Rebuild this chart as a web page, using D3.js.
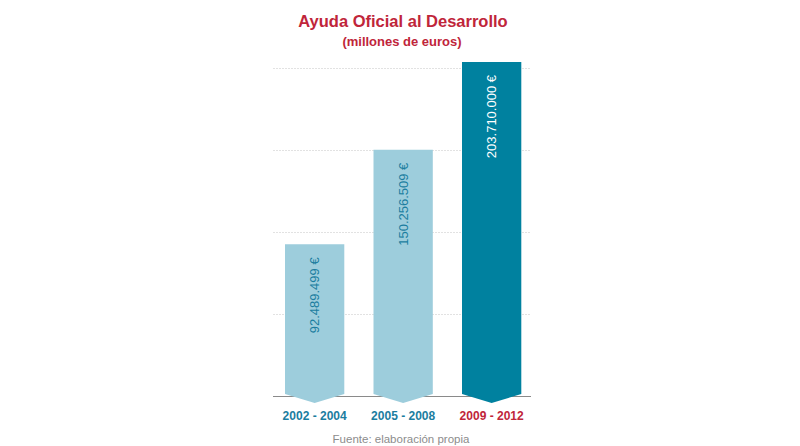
<!DOCTYPE html>
<html><head><meta charset="utf-8">
<script src="https://cdn.jsdelivr.net/npm/d3@7"></script>
<style>body{margin:0;background:#fff;font-family:"Liberation Sans",Arial,sans-serif}</style>
</head><body>
<svg id="c" width="800" height="446"></svg>
<script>
const categories = ["2002 - 2004", "2005 - 2008", "2009 - 2012"];
const values = [92489499, 150256509, 203710000];
const valueLabels = ["92.489.499 €", "150.256.509 €", "203.710.000 €"];
const gridTicks = [50000000, 100000000, 150000000, 200000000];
const barColors = ["#9dcddc", "#9dcddc", "#00819f"];
const valueTextColors = ["#1b7d9f", "#1b7d9f", "#ffffff"];
const catColors = ["#1b7d9f", "#1b7d9f", "#c0253a"];

const svg = d3.select("#c");
const x = d3.scaleBand().domain(categories).range([267.3, 539]).paddingInner(0.33).paddingOuter(0.2);
const y = d3.scaleLinear().domain([0, 203710000]).range([396, 62]);

svg.append("text").attr("x", 403).attr("y", 27).attr("text-anchor", "middle")
  .attr("fill", "#c0253a").attr("font-weight", "bold").attr("font-size", 16.5).text("Ayuda Oficial al Desarrollo");
svg.append("text").attr("x", 402).attr("y", 46).attr("text-anchor", "middle")
  .attr("fill", "#c0253a").attr("font-weight", "bold").attr("font-size", 13).text("(millones de euros)");

svg.append("g").selectAll("line").data(gridTicks).join("line")
  .attr("x1", 273).attr("x2", 531)
  .attr("y1", d => Math.round(y(d)) + 0.5).attr("y2", d => Math.round(y(d)) + 0.5)
  .attr("stroke", "#e2e2e2").attr("stroke-width", 1).attr("stroke-dasharray", "2,1");

svg.append("line").attr("x1", 273).attr("x2", 531).attr("y1", y(0) + 0.5).attr("y2", y(0) + 0.5)
  .attr("stroke", "#8a8a8a").attr("stroke-width", 1);

const bw = x.bandwidth();
svg.append("g").selectAll("path").data(values).join("path")
  .attr("d", (d, i) => {
    const x0 = x(categories[i]), x1 = x0 + bw, xm = x0 + bw / 2;
    const yt = y(d), yb = y(0) - 2;
    return `M${x0},${yt}L${x1},${yt}L${x1},${yb}L${xm},${yb + 9}L${x0},${yb}Z`;
  })
  .attr("fill", (d, i) => barColors[i]);

svg.append("g").selectAll("text").data(values).join("text")
  .attr("transform", (d, i) => `translate(${x(categories[i]) + bw / 2 + 4.5},${y(d) + 13}) rotate(-90)`)
  .attr("text-anchor", "end").attr("font-size", 13)
  .attr("fill", (d, i) => valueTextColors[i]).text((d, i) => valueLabels[i]);

svg.append("g").selectAll("text").data(categories).join("text")
  .attr("x", d => x(d) + bw / 2).attr("y", 420).attr("text-anchor", "middle")
  .attr("font-weight", "bold").attr("font-size", 12)
  .attr("fill", (d, i) => catColors[i]).text(d => d);

svg.append("text").attr("x", 401).attr("y", 443).attr("text-anchor", "middle")
  .attr("fill", "#8c8c8c").attr("font-size", 11.5).text("Fuente: elaboración propia");
</script>
</body></html>
